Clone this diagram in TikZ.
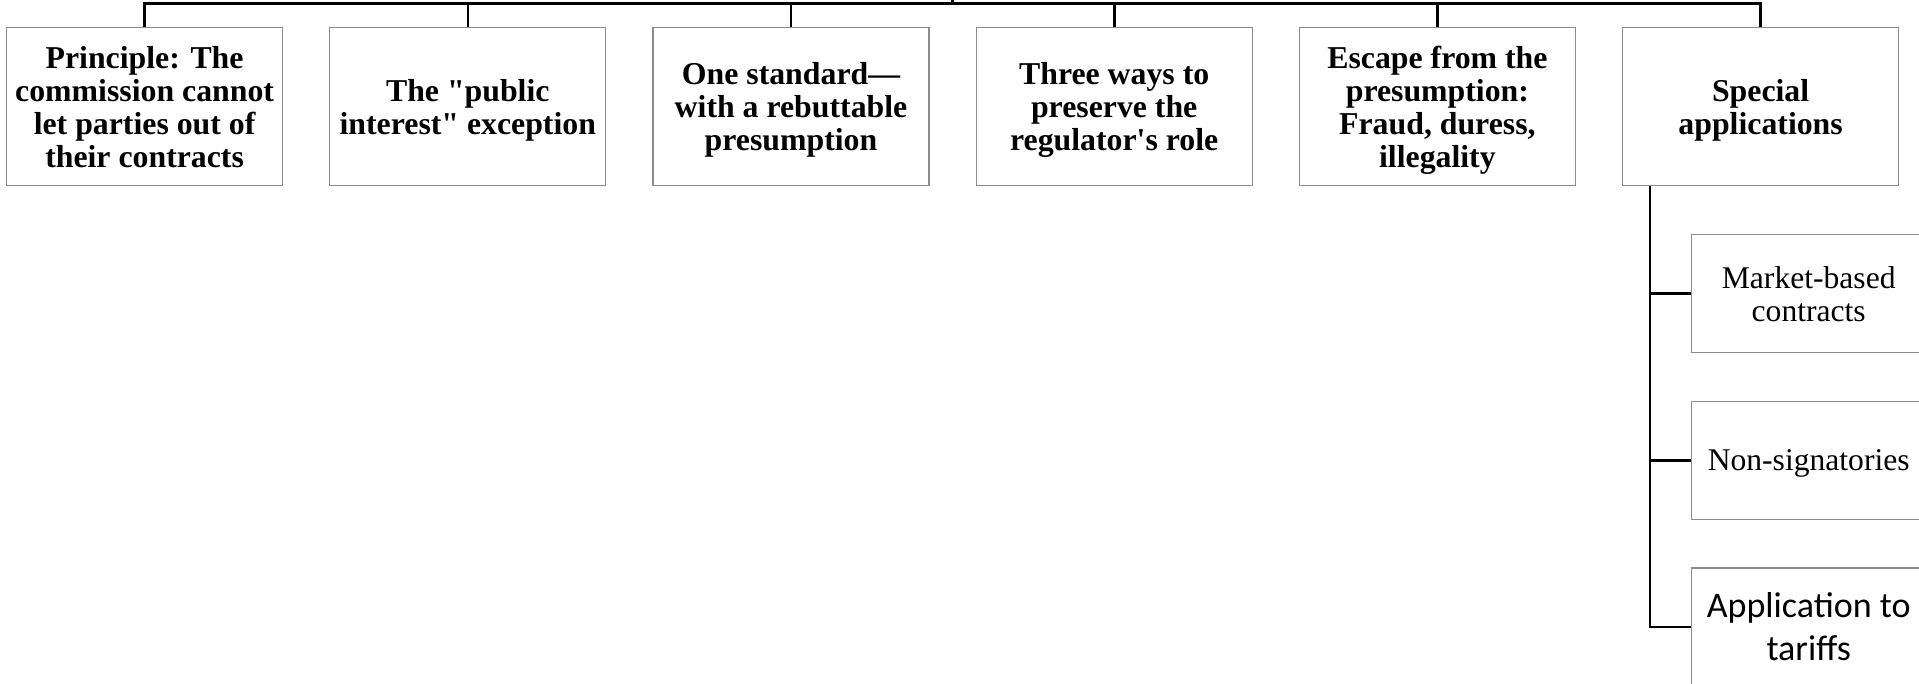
\documentclass[tikz,border=0pt]{standalone}
\usepackage{fontspec}
\newfontfamily\tnr{Liberation Serif}
\newfontfamily\calib{Carlito}
\definecolor{boxline}{HTML}{8C8C8C}
% centred lines of text, lowered a little inside their box
\newcommand{\boxtext}[2][4.5pt]{\raisebox{-#1}[\height][\depth]{\begin{tabular}{@{}c@{}}#2\end{tabular}}}
\begin{document}
\begin{tikzpicture}[x=1pt,y=-1pt,
  topbox/.style={draw=boxline, line width=1.3pt, fill=white,
    minimum width=276pt, minimum height=158.4pt, inner sep=0pt,
    font=\tnr\bfseries\fontsize{31.8}{33}\selectfont},
  subbox/.style={draw=boxline, line width=1.3pt, fill=white,
    minimum width=234pt, minimum height=118pt, inner sep=0pt,
    font=\tnr\fontsize{31.6}{33}\selectfont},
  conn/.style={draw=black, line width=2.6pt}]
\useasboundingbox (0,0) rectangle (1919,684);
\clip (0,0) rectangle (1919,684);

% first level
\node[topbox] (b1) at (144.6,106.5) {\boxtext{Principle: The\\commission cannot\\let parties out of\\their contracts}};
\node[topbox] (b2) at (467.8,106.5) {\boxtext{The "public\\interest" exception}};
\node[topbox] (b3) at (791.0,106.5) {\boxtext{One standard—\\with a rebuttable\\presumption}};
\node[topbox] (b4) at (1114.2,106.5) {\boxtext{Three ways to\\preserve the\\regulator's role}};
\node[topbox] (b5) at (1437.4,106.5) {\boxtext{Escape from the\\presumption:\\Fraud, duress,\\illegality}};
\node[topbox] (b6) at (1760.6,106.5) {\boxtext{Special\\applications}};

% second level under "Special applications"
\node[subbox] (c1) at (1808.7,293.5) {\boxtext[5pt]{Market-based\\contracts}};
\node[subbox] (c2) at (1808.7,460.5) {\boxtext[3.5pt]{Non-signatories}};
\node[subbox, font=\calib\fontsize{36}{43}\selectfont] (c3) at (1808.7,627) {\boxtext[3pt]{Application to\\tariffs}};

% connectors
\coordinate (root) at (952.5,0);
\coordinate (bus) at (952.5,3.7);
\draw[conn] (root) -- (bus);
\foreach \b in {b1,b2,b3,b4,b5,b6}
  \draw[conn] (bus) -| (\b.north);

\coordinate (trunk) at ([xshift=28pt]b6.south west);
\draw[conn] (trunk) |- (c3.west);
\draw[conn] (trunk) |- (c2.west);
\draw[conn] (trunk) |- (c1.west);
\end{tikzpicture}
\end{document}
